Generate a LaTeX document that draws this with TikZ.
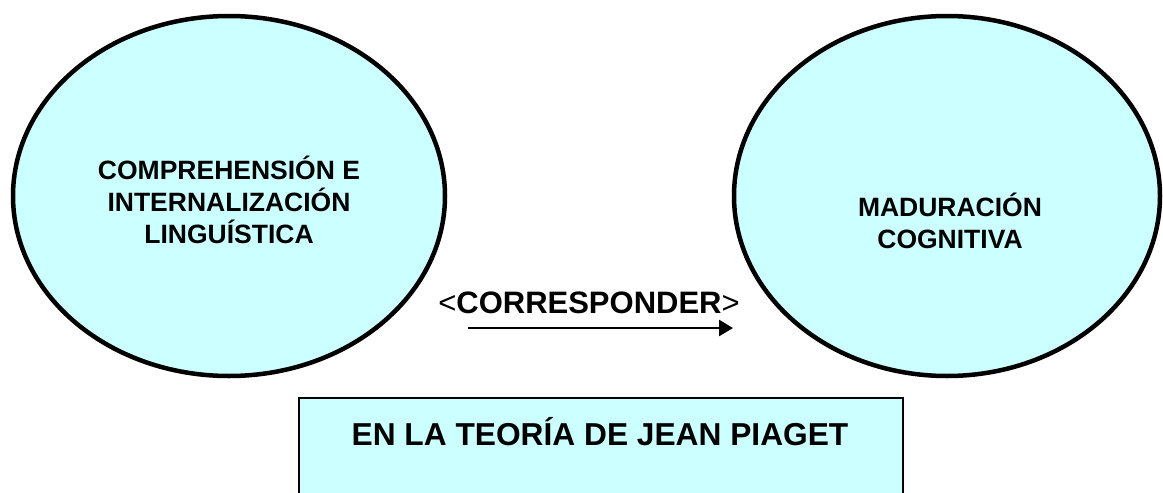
\documentclass[tikz,border=0pt]{standalone}
\usepackage{fontspec}
\setmainfont{Liberation Sans}
\usetikzlibrary{shapes.geometric,arrows.meta}
\definecolor{cyanfill}{HTML}{CCFFFF}
\begin{document}
\begin{tikzpicture}[x=1pt,y=-1pt,
  bubble/.style={ellipse,draw=black,line width=4.5pt,fill=cyanfill,inner sep=0pt},
  bubbletext/.style={align=center,font=\bfseries\fontsize{26.5}{31.7}\selectfont,inner sep=0pt},
  linktext/.style={font=\fontsize{31}{36}\selectfont,inner sep=0pt},
  framebox/.style={draw=black,line width=2pt,fill=cyanfill},
  boxtext/.style={font=\bfseries\fontsize{31.7}{36}\selectfont,inner sep=0pt},
  link/.style={line width=2.6pt,-{Triangle[length=14pt,width=16pt]}}]
\useasboundingbox (0,0) rectangle (1163,493);
\fill[white] (0,0) rectangle (1163,493);
\node[bubble,minimum width=432pt,minimum height=360pt] (left) at (229,196) {};
\node[bubble,minimum width=426pt,minimum height=360pt] (right) at (947,196) {};
\node[bubbletext] (lefttext) at (229,200) {COMPREHENSIÓN E\\INTERNALIZACIÓN\\LINGUÍSTICA};
\node[bubbletext] (righttext) at (950,221) {MADURACIÓN\\COGNITIVA};
\node[linktext] (corr) at (589,303) {<\textbf{CORRESPONDER}>};
\coordinate (a1) at (468,328);
\coordinate (a2) at (733,328);
\draw[link] (a1) -- (a2);
\path[framebox] (299,398) rectangle (903,500);
\node[boxtext] (piaget) at (600,432) {EN LA TEORÍA DE JEAN PIAGET};
\end{tikzpicture}
\end{document}
